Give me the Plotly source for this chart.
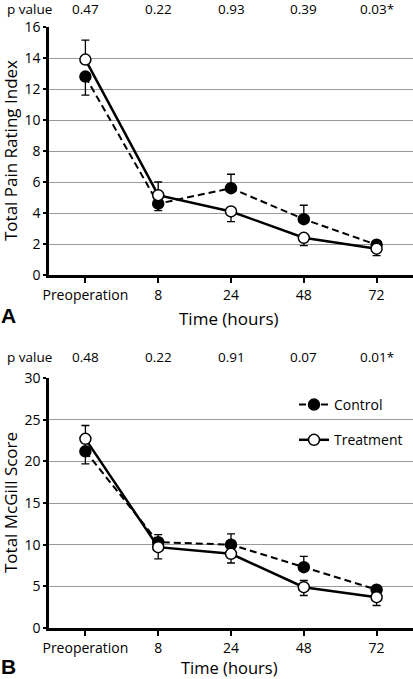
import plotly.graph_objects as go

categories = ["Preoperation", "8", "24", "48", "72"]

# Panel A: Total Pain Rating Index
a_control = [12.8, 4.6, 5.6, 3.6, 1.95]
a_control_plus = [0, 0, 0.9, 0.9, 0]
a_control_minus = [1.2, 0.45, 0, 0, 0]
a_treat = [13.9, 5.15, 4.1, 2.4, 1.7]
a_treat_plus = [1.25, 0.85, 0, 0, 0]
a_treat_minus = [0, 0, 0.65, 0.5, 0.45]
a_pvalues = ["0.47", "0.22", "0.93", "0.39", "0.03*"]

# Panel B: Total McGill Score
b_control = [21.2, 10.3, 10.0, 7.3, 4.6]
b_control_plus = [0, 0.9, 1.3, 1.3, 0]
b_control_minus = [1.5, 0, 0, 0, 0]
b_treat = [22.7, 9.7, 8.9, 4.9, 3.7]
b_treat_plus = [1.6, 0, 0, 0.8, 0]
b_treat_minus = [0, 1.4, 1.1, 1.0, 1.0]
b_pvalues = ["0.48", "0.22", "0.91", "0.07", "0.01*"]

W, H = 413, 679
FONT = "Open Sans"

fig = go.Figure()

def add_series(y, plus, minus, xa, ya, name, filled, show):
    fig.add_trace(go.Scatter(
        x=categories, y=y, xaxis=xa, yaxis=ya, name=name, showlegend=show,
        legendgroup=name,
        mode="lines+markers",
        line=dict(color="black", width=2 if filled else 2.5,
                  dash="7px,4px" if filled else "solid"),
        marker=dict(size=11, color="black" if filled else "white",
                    line=dict(color="black", width=1.5)),
        error_y=dict(type="data", symmetric=False, array=plus, arrayminus=minus,
                     color="black", thickness=1.3, width=4),
    ))

add_series(a_control, a_control_plus, a_control_minus, "x", "y", "Control", True, False)
add_series(a_treat, a_treat_plus, a_treat_minus, "x", "y", "Treatment", False, False)
add_series(b_control, b_control_plus, b_control_minus, "x2", "y2", "Control", True, True)
add_series(b_treat, b_treat_plus, b_treat_minus, "x2", "y2", "Treatment", False, True)

xdom = [49 / W, 1.0]
ya_dom = [1 - 275 / H, 1 - 27 / H]
yb_dom = [1 - 628 / H, 1 - 378 / H]

xcommon = dict(type="category", range=[-0.5, 4.5], showline=True, linecolor="black",
               linewidth=2.5, ticks="outside", ticklen=5, tickwidth=1.5, tickcolor="black",
               showgrid=False, zeroline=False, automargin=False,
               tickfont=dict(family=FONT, size=14, color="black"), fixedrange=True)
ycommon = dict(showline=True, linecolor="black", linewidth=2.5, ticks="outside",
               ticklen=3, tickwidth=1.5, tickcolor="black",
               showgrid=True, gridcolor="#9a9a9a", gridwidth=1.2, zeroline=False,
               automargin=False, tickfont=dict(family=FONT, size=14, color="black"),
               fixedrange=True)

fig.update_layout(
    width=W, height=H, margin=dict(l=0, r=0, t=0, b=0),
    paper_bgcolor="white", plot_bgcolor="white",
    xaxis=dict(domain=xdom, anchor="y", **xcommon),
    yaxis=dict(domain=ya_dom, anchor="x", range=[0, 16], dtick=2, **ycommon),
    xaxis2=dict(domain=xdom, anchor="y2", **xcommon),
    yaxis2=dict(domain=yb_dom, anchor="x2", range=[0, 30], dtick=5, **ycommon),
    legend=dict(x=294 / W, y=1 - 389 / H, xanchor="left", yanchor="top",
                bgcolor="rgba(0,0,0,0)", font=dict(family=FONT, size=14, color="black"),
                tracegroupgap=14),
    showlegend=True,
)

ann = []
def txt(x, y, s, size=14, xref="paper", family=FONT, **kw):
    ann.append(dict(x=x, y=y, xref=xref, yref="paper", text=s, showarrow=False,
                    xanchor="center", yanchor="middle",
                    font=dict(family=family, size=size, color="black"), **kw))

txt(29 / W, 1 - 9 / H, "p value", size=13.5)
for i, p in enumerate(a_pvalues):
    txt(i, 1 - 9 / H, p, xref="x", size=13.5)
txt(29 / W, 1 - 357 / H, "p value", size=13.5)
for i, p in enumerate(b_pvalues):
    txt(i, 1 - 357 / H, p, xref="x2", size=13.5)

txt(10 / W, 1 - 151 / H, "Total Pain Rating Index", size=17, textangle=-90)
txt(10 / W, 1 - 503 / H, "Total McGill Score", size=17, textangle=-90)
txt(229 / W, 1 - 318 / H, "Time (hours)", size=17)
txt(229 / W, 1 - 667 / H, "Time (hours)", size=16.5)
txt(8 / W, 1 - 315 / H, "<b>A</b>", size=21, family="Liberation Sans")
txt(8 / W, 1 - 666 / H, "<b>B</b>", size=21, family="Liberation Sans")
fig.update_layout(annotations=ann)

fig.write_html("out.html", config={"displayModeBar": False},
               post_script="document.body.style.margin='0';")
